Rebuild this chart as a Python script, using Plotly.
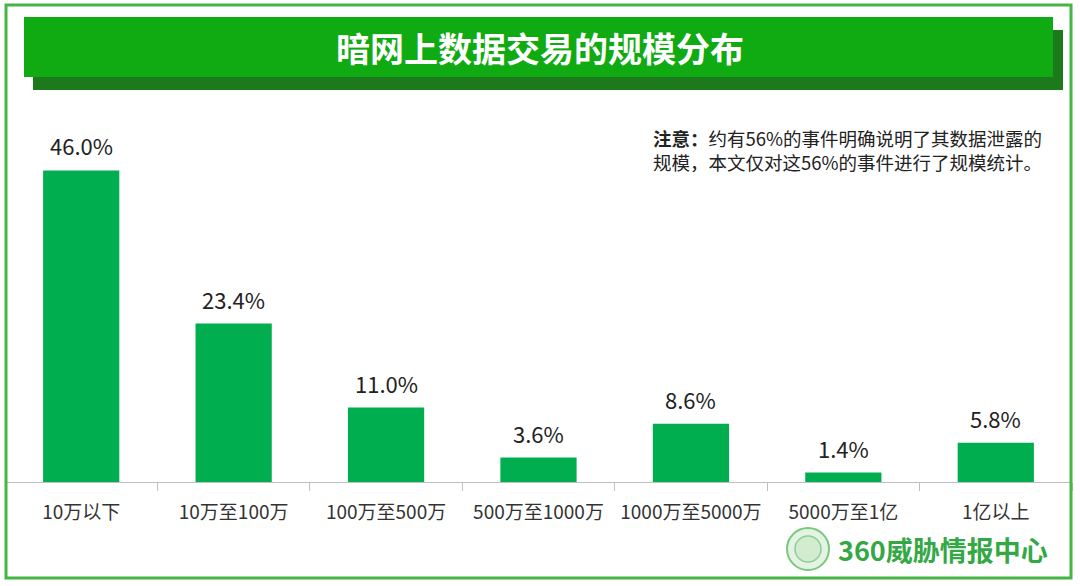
import plotly.graph_objects as go

categories = ["10万以下", "10万至100万", "100万至500万", "500万至1000万", "1000万至5000万", "5000万至1亿", "1亿以上"]
values = [46.0, 23.4, 11.0, 3.6, 8.6, 1.4, 5.8]
value_labels = ["46.0%", "23.4%", "11.0%", "3.6%", "8.6%", "1.4%", "5.8%"]

title_text = "暗网上数据交易的规模分布"
note_line1 = "<b>注意：</b>约有56%的事件明确说明了其数据泄露的"
note_line2 = "规模，本文仅对这56%的事件进行了规模统计。"
logo_text = "360威胁情报中心"

W, H = 1080, 586
ML, MR, MT, MB = 5, 8, 100, 104
PW = W - ML - MR
PH = H - MT - MB

def px(x):
    return (x - ML) / PW

def py(y):
    return (H - MB - y) / PH

FONT = "Noto Sans CJK SC"

fig = go.Figure()
fig.add_trace(go.Bar(
    x=categories, y=values, width=0.5,
    marker=dict(color="#00AD4F", line=dict(width=0)),
    hoverinfo="skip",
))

annotations = []
for c, v, t in zip(categories, values, value_labels):
    annotations.append(dict(x=c, y=v, xref="x", yref="y", text=t, showarrow=False,
                            yanchor="bottom", yshift=7,
                            font=dict(family=FONT, size=22, color="#222222")))

annotations.append(dict(x=px(540), y=py(47), xref="paper", yref="paper", text=title_text,
                        showarrow=False, xanchor="center", yanchor="middle",
                        font=dict(family=FONT, size=34, color="white", weight="bold")))
for line, yc in ((note_line1, 138), (note_line2, 162)):
    annotations.append(dict(x=px(651), y=py(yc), xref="paper", yref="paper", text=line,
                            showarrow=False, xanchor="left", yanchor="middle", align="left",
                            font=dict(family=FONT, size=18.5, color="#222222")))
annotations.append(dict(x=px(836), y=py(549), xref="paper", yref="paper", text="<b>" + logo_text + "</b>",
                        showarrow=False, xanchor="left", yanchor="middle",
                        font=dict(family=FONT, size=27, color="#35A846")))

shapes = [
    # outer border
    dict(type="rect", xref="paper", yref="paper", x0=px(6), x1=px(1071), y0=py(5), y1=py(578),
         line=dict(color="#45B545", width=3), fillcolor="rgba(0,0,0,0)", layer="above"),
    # banner shadow
    dict(type="rect", xref="paper", yref="paper", x0=px(33), x1=px(1063), y0=py(30), y1=py(90),
         line=dict(width=0), fillcolor="#1C7A1C", layer="below"),
    # banner
    dict(type="rect", xref="paper", yref="paper", x0=px(24), x1=px(1053), y0=py(17), y1=py(77),
         line=dict(width=0), fillcolor="#10AA12", layer="below"),
    # emblem
    dict(type="circle", xref="paper", yref="paper", x0=px(787), x1=px(829), y0=py(528), y1=py(570),
         line=dict(color="#7CC67C", width=2), fillcolor="#E3F3E3", layer="above"),
    dict(type="circle", xref="paper", yref="paper", x0=px(795), x1=px(821), y0=py(536), y1=py(562),
         line=dict(color="#8FCF8F", width=1.5), fillcolor="#D2ECD2", layer="above"),
]

fig.update_layout(
    width=W, height=H,
    margin=dict(l=ML, r=MR, t=MT, b=MB),
    paper_bgcolor="white", plot_bgcolor="white",
    showlegend=False,
    annotations=annotations,
    shapes=shapes,
    bargap=0.5,
    xaxis=dict(
        showline=True, linecolor="#BFBFBF", linewidth=1,
        ticks="outside", tickson="boundaries", ticklen=8, tickcolor="#BFBFBF",
        ticklabelstandoff=13,
        tickfont=dict(family=FONT, size=19, color="#333333"),
        showgrid=False, zeroline=False, fixedrange=True,
    ),
    yaxis=dict(range=[0, 56.4], visible=False, showgrid=False, zeroline=False, fixedrange=True),
)

fig.write_html("out.html")
